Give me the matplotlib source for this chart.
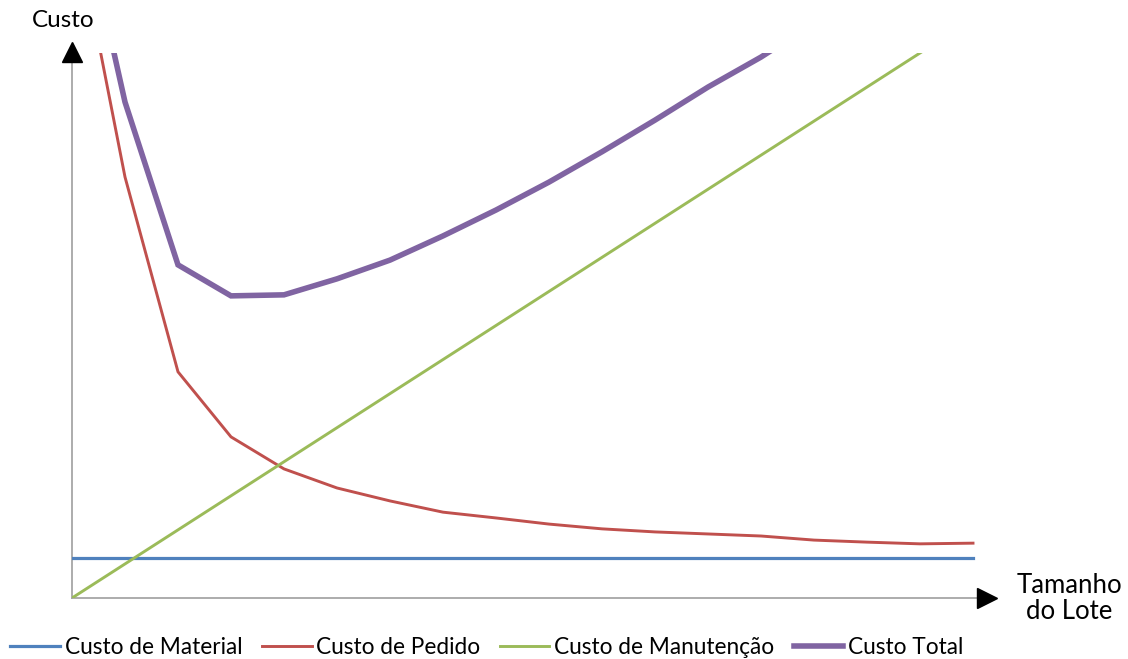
import matplotlib
matplotlib.use("Agg")
import matplotlib.pyplot as plt

plt.rcParams["font.family"] = ["Lato", "DejaVu Sans"]

# lot size steps (0..17) and cost series
lote = list(range(18))
custo_material = [11.8] * 18
custo_pedido = [203.0, 123.6, 66.4, 47.3, 37.9, 32.3, 28.5, 25.2, 23.5,
                21.7, 20.3, 19.4, 18.8, 18.2, 17.0, 16.4, 15.9, 16.1]
custo_manutencao = [0, 10, 20, 30, 40, 50, 60, 70, 80,
                    90, 100, 110, 120, 130, 140, 150, 160, 170]
custo_total = [215.0, 145.6, 97.8, 88.7, 89.0, 93.7, 99.2, 106.3, 113.9,
               122.1, 131.0, 140.3, 150.0, 158.8, 168.8, 178.2, 187.7, 198.0]

series = [
    ("Custo de Material", custo_material, "#4F81BD", 2.3),
    ("Custo de Pedido", custo_pedido, "#C0504D", 2.1),
    ("Custo de Manutenção", custo_manutencao, "#9BBB59", 2.1),
    ("Custo Total", custo_total, "#8064A2", 4.0),
]

W, H = 1128, 659
fig = plt.figure(figsize=(W / 100, H / 100), dpi=100)
ax = fig.add_axes([72 / W, 61 / H, 935 / W, 545 / H])
ax.set_xlim(0, 935 / 53)
ax.set_ylim(0, 160)
ax.axis("off")

for name, vals, color, lw in series:
    ax.plot(lote, vals, color=color, lw=lw, label=name, solid_joinstyle="miter")

# axes drawn as arrows
axis_gray = "#A6A6A6"
x_tip = 915 / 53
y_tip = 160.4
ax.plot([0, 0], [0, y_tip], color=axis_gray, lw=1.3, clip_on=False, zorder=1)
ax.plot([0, x_tip], [0, 0], color=axis_gray, lw=1.3, clip_on=False, zorder=1)
ax.plot(0, y_tip, marker="^", ms=14, color="black", clip_on=False, zorder=5)
ax.plot(x_tip, 0, marker=">", ms=14, color="black", clip_on=False, zorder=5)

fig.text(63 / W, 1 - 27 / H, "Custo", fontsize=17.5, ha="center", va="baseline")
fig.text(1069 / W, 1 - 593 / H, "Tamanho", fontsize=18.5, ha="center", va="baseline")
fig.text(1069 / W, 1 - 619 / H, "do Lote", fontsize=18.5, ha="center", va="baseline")

fig.legend(loc="center", bbox_to_anchor=(487 / W, 1 - 647 / H), ncol=4,
           frameon=False, fontsize=16.3, handlelength=2.2, handletextpad=0.22,
           columnspacing=0.84, borderpad=0, borderaxespad=0)

fig.savefig("out.png", dpi=100)
